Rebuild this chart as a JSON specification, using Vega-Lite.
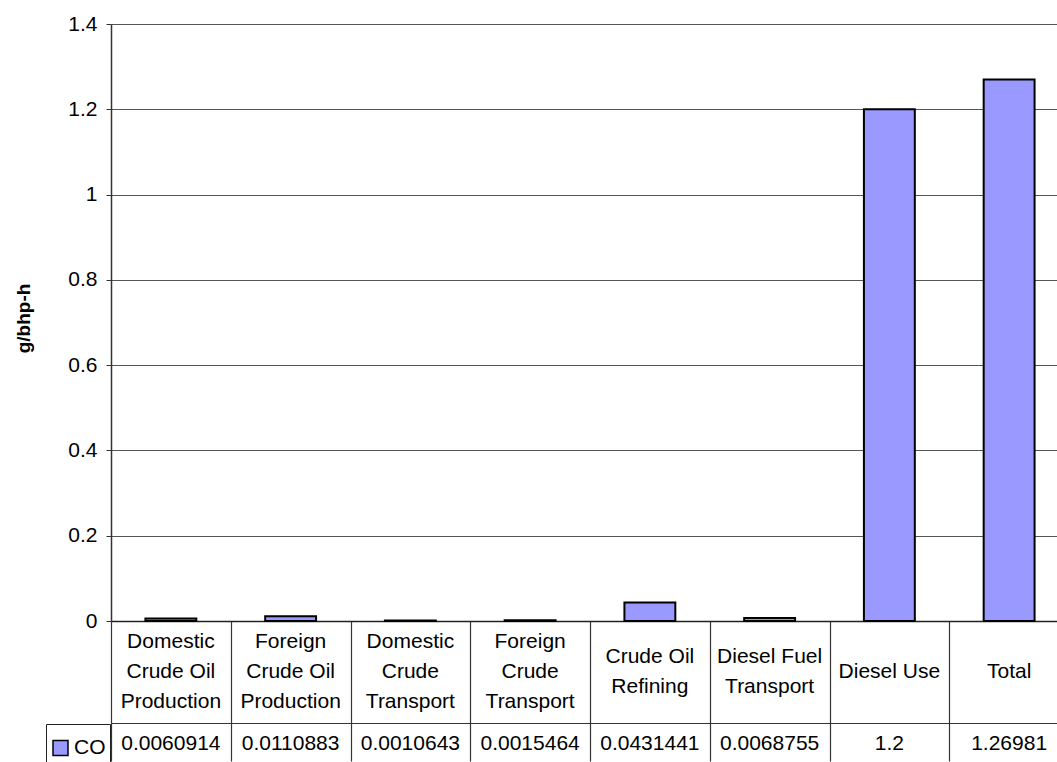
{
  "$schema": "https://vega.github.io/schema/vega-lite/v6.json",
  "width": 946,
  "height": 597,
  "autosize": {"type": "none"},
  "padding": {"left": 111, "top": 24, "right": 0, "bottom": 141},
  "background": "white",
  "config": {
    "view": {"stroke": null},
    "font": "Liberation Sans"
  },
  "data": {
    "values": [
      {"stage": "Domestic|Crude Oil|Production", "series": "CO", "value": 0.0060914},
      {"stage": "Foreign|Crude Oil|Production", "series": "CO", "value": 0.0110883},
      {"stage": "Domestic|Crude|Transport", "series": "CO", "value": 0.0010643},
      {"stage": "Foreign|Crude|Transport", "series": "CO", "value": 0.0015464},
      {"stage": "Crude Oil|Refining", "series": "CO", "value": 0.0431441},
      {"stage": "Diesel Fuel|Transport", "series": "CO", "value": 0.0068755},
      {"stage": "Diesel Use", "series": "CO", "value": 1.2},
      {"stage": "Total", "series": "CO", "value": 1.26981}
    ]
  },
  "resolve": {"axis": {"x": "independent"}},
  "layer": [
    {
      "mark": {"type": "bar", "stroke": "black", "strokeWidth": 2, "width": {"band": 0.425}},
      "encoding": {
        "x": {
          "field": "stage",
          "type": "nominal",
          "sort": null,
          "scale": {"range": [0, 958], "paddingInner": 0, "paddingOuter": 0},
          "axis": {
            "orient": "bottom",
            "title": null,
            "offset": 102,
            "domain": true,
            "domainColor": "#333",
            "domainWidth": 1.2,
            "ticks": false,
            "labelPadding": -82,
            "labelBaseline": "middle",
            "labelAngle": 0,
            "labelExpr": "split((length(split(datum.label,'|'))==3 ? '' : (length(split(datum.label,'|'))==2 ? '\u200b|' : '\u200b|\u200b|')) + join(split(datum.label,'|'),'|\u200b|'), '|')",
            "labelLineHeight": 15,
            "labelFontSize": 21,
            "labelColor": "black",
            "labelOverlap": false,
            "labelBound": false,
            "labelFlush": false,
            "labelLimit": 300
          }
        },
        "y": {
          "field": "value",
          "type": "quantitative",
          "scale": {"domain": [0, 1.4], "nice": false},
          "axis": {
            "title": "g/bhp-h",
            "titleFontSize": 19,
            "titleFontWeight": "bold",
            "titleColor": "black",
            "titleAngle": -90,
            "titleX": -88,
            "titleY": 294,
            "titleAlign": "center",
            "titleBaseline": "middle",
            "values": [0, 0.2, 0.4, 0.6, 0.8, 1, 1.2, 1.4],
            "format": "~g",
            "labelFontSize": 21,
            "labelColor": "black",
            "labelPadding": 9,
            "tickSize": 5,
            "tickColor": "#333",
            "domainColor": "#333",
            "domainWidth": 1.5,
            "grid": true,
            "gridColor": "#555",
            "gridWidth": 1
          }
        },
        "color": {
          "field": "series",
          "type": "nominal",
          "scale": {"domain": ["CO"], "range": ["#9999FF"]},
          "legend": {
            "orient": "none",
            "legendX": -65,
            "legendY": 700,
            "title": null,
            "strokeColor": "#222",
            "fillColor": "white",
            "padding": 4,
            "clipHeight": 40,
            "symbolType": "square",
            "symbolSize": 225,
            "symbolStrokeColor": "black",
            "symbolStrokeWidth": 1.5,
            "labelOffset": 3,
            "labelFontSize": 21,
            "labelColor": "black"
          }
        }
      }
    },
    {
      "mark": {"type": "text", "fontSize": 21, "color": "black", "baseline": "middle", "align": "center", "dy": 123},
      "encoding": {
        "x": {
          "field": "stage",
          "type": "nominal",
          "sort": null,
          "axis": {
            "orient": "bottom",
            "title": null,
            "labels": false,
            "domain": true,
            "domainColor": "#222",
            "domainWidth": 1.5,
            "ticks": true,
            "tickBand": "extent",
            "tickSize": 140,
            "tickColor": "#333",
            "tickWidth": 1.2
          }
        },
        "y": {"datum": 0, "type": "quantitative"},
        "text": {"field": "value", "type": "nominal"}
      }
    }
  ]
}
